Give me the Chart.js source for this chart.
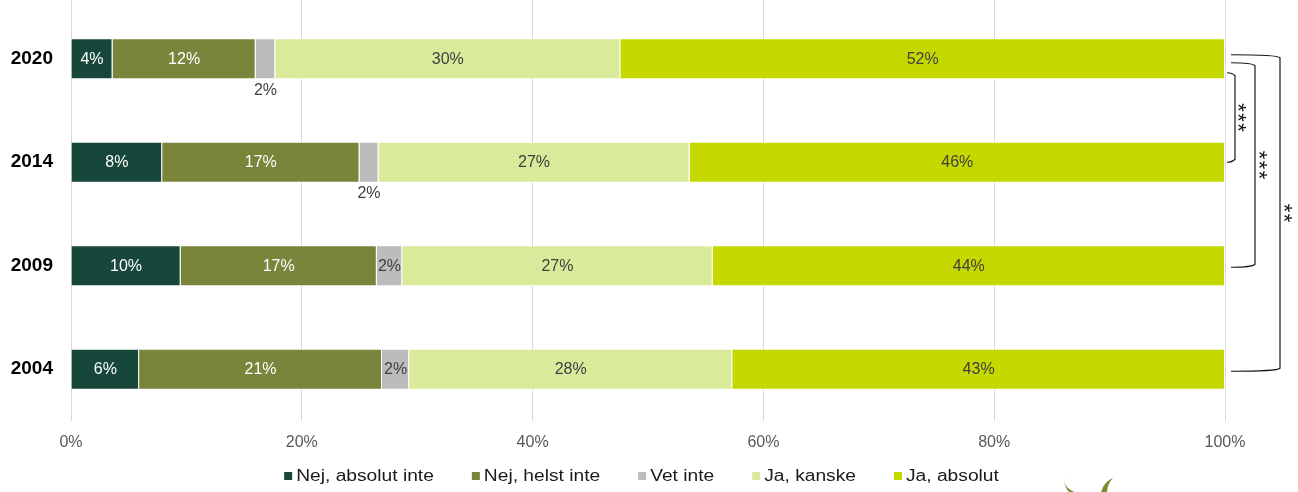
<!DOCTYPE html>
<html>
<head>
<meta charset="utf-8">
<script src="https://cdn.jsdelivr.net/npm/chart.js@4/dist/chart.umd.min.js"></script>
<style>
  html, body { margin: 0; padding: 0; background: #ffffff; }
  #wrap { width: 1298px; height: 492px; position: relative; }
</style>
</head>
<body>
<div id="wrap"><canvas id="c"></canvas></div>
<script>
// ---- Data (percent shares) ----
const categories   = ['2020', '2014', '2009', '2004'];
const seriesNames  = ['Nej, absolut inte', 'Nej, helst inte', 'Vet inte', 'Ja, kanske', 'Ja, absolut'];
const nejAbsolut   = [3.6, 7.9, 9.5, 5.9];
const nejHelst     = [12.4, 17.1, 17.0, 21.05];
const vetInte      = [1.7, 1.65, 2.2, 2.35];
const jaKanske     = [29.9, 26.95, 26.9, 28.0];
const jaAbsolut    = [52.4, 46.4, 44.4, 42.7];
const xTicks       = [0, 20, 40, 60, 80, 100];
// significance brackets: [fromCategoryIndex, toCategoryIndex, label]
const sigFrom      = [0, 0, 0];
const sigTo        = [1, 2, 3];
const sigLabels    = ['***', '***', '**'];

const colors = ['#17473a', '#7a843b', '#bcbcbc', '#d9eb9a', '#c5d800'];
const labelColors = ['#ffffff', '#ffffff', '#404040', '#404040', '#404040'];
const allSeries = [nejAbsolut, nejHelst, vetInte, jaKanske, jaAbsolut];

const FONT = '"Liberation Sans", Arial, sans-serif';

const gridTopPlugin = {
  id: 'gridTop',
  beforeDatasetsDraw(chart) {
    const ctx = chart.ctx, xs = chart.scales.x;
    ctx.save();
    ctx.strokeStyle = '#d9d9d9';
    ctx.lineWidth = 1;
    xs.ticks.forEach(t => {
      const x = Math.round(xs.getPixelForValue(t.value) - 0.5) + 0.5;
      ctx.beginPath();
      ctx.moveTo(x, 0);
      ctx.lineTo(x, chart.chartArea.top);
      ctx.stroke();
    });
    ctx.restore();
  }
};

const labelPlugin = {
  id: 'segLabels',
  afterDatasetsDraw(chart) {
    const ctx = chart.ctx;
    ctx.save();
    ctx.font = '16px ' + FONT;
    ctx.textAlign = 'center';
    ctx.textBaseline = 'middle';
    chart.data.datasets.forEach((ds, di) => {
      const meta = chart.getDatasetMeta(di);
      meta.data.forEach((bar, i) => {
        const v = ds.data[i];
        const txt = Math.round(v) + '%';
        const w = Math.abs(bar.x - bar.base);
        const cx = (bar.x + bar.base) / 2;
        if (w < 25) {
          ctx.fillStyle = '#404040';
          ctx.fillText(txt, cx, bar.y + bar.height / 2 + 11);
        } else {
          ctx.fillStyle = labelColors[di];
          ctx.fillText(txt, cx, bar.y + 0.5);
        }
      });
    });
    ctx.restore();
  }
};

const legendPlugin = {
  id: 'customLegend',
  afterDraw(chart) {
    const ctx = chart.ctx;
    const sx = 1.2, box = 8, gap = 4, itemGap = 38, cy = 476;
    ctx.save();
    ctx.font = '16px ' + FONT;
    const widths = chart.data.datasets.map(d => ctx.measureText(d.label).width * sx);
    const total = widths.reduce((a, w) => a + box + gap + w, 0) + itemGap * (widths.length - 1);
    let x = 641.5 - total / 2;
    chart.data.datasets.forEach((d, i) => {
      ctx.fillStyle = d.backgroundColor;
      ctx.fillRect(x, cy - box / 2, box, box);
      ctx.save();
      ctx.translate(x + box + gap, cy);
      ctx.scale(sx, 1);
      ctx.fillStyle = '#1a1a1a';
      ctx.textBaseline = 'middle';
      ctx.textAlign = 'left';
      ctx.fillText(d.label, 0, 1);
      ctx.restore();
      x += box + gap + widths[i] + itemGap;
    });
    ctx.restore();
  }
};

const bracketPlugin = {
  id: 'brackets',
  afterDraw(chart) {
    const ctx = chart.ctx;
    const xs = chart.scales.x, ys = chart.scales.y;
    const r = xs.right;
    const geo = [
      { x0: r + 2, xv: r + 10, dy1: 14, dy2: 0,   tx: r + 17 },
      { x0: r + 6, xv: r + 30, dy1: 4,  dy2: 1.5, tx: r + 38 },
      { x0: r + 6, xv: r + 55, dy1: -4, dy2: 2,   tx: r + 63 }
    ];
    ctx.save();
    ctx.strokeStyle = '#1a1a1a';
    ctx.lineWidth = 1.2;
    sigLabels.forEach((lab, k) => {
      const g = geo[k];
      const y1 = ys.getPixelForValue(sigFrom[k]) + g.dy1;
      const y2 = ys.getPixelForValue(sigTo[k]) + g.dy2;
      ctx.beginPath();
      ctx.moveTo(g.x0, y1);
      ctx.quadraticCurveTo(g.xv - 3, y1, g.xv, y1 + 3);
      ctx.lineTo(g.xv, y2 - 3);
      ctx.quadraticCurveTo(g.xv - 3, y2, g.x0, y2);
      ctx.stroke();
      // stars, stacked vertically
      ctx.save();
      ctx.fillStyle = '#1a1a1a';
      ctx.font = '22px ' + FONT;
      ctx.textAlign = 'center';
      ctx.textBaseline = 'alphabetic';
      const m = ctx.measureText('*');
      const off = (m.actualBoundingBoxAscent - m.actualBoundingBoxDescent) / 2;
      const n = lab.length, cyc = (y1 + y2) / 2;
      for (let j = 0; j < n; j++) {
        const yy = cyc + (j - (n - 1) / 2) * 10;
        ctx.save();
        ctx.translate(g.tx, yy);
        ctx.rotate(Math.PI / 2);
        ctx.fillText('*', 0, off);
        ctx.restore();
      }
      ctx.restore();
    });
    ctx.restore();

    // partial logo leaves at the bottom edge
    ctx.save();
    ctx.fillStyle = '#7b8c2c';
    ctx.beginPath();
    ctx.moveTo(1065, 477);
    ctx.quadraticCurveTo(1062, 488, 1077, 493);
    ctx.lineTo(1070, 493);
    ctx.quadraticCurveTo(1063, 486, 1065, 477);
    ctx.fill();
    ctx.beginPath();
    ctx.moveTo(1113, 478);
    ctx.quadraticCurveTo(1103, 482, 1101, 493);
    ctx.lineTo(1107, 493);
    ctx.quadraticCurveTo(1107, 484, 1113, 478);
    ctx.fill();
    ctx.restore();
  }
};

new Chart(document.getElementById('c'), {
  type: 'bar',
  data: {
    labels: categories,
    datasets: allSeries.map((d, i) => ({
      label: seriesNames[i],
      data: d,
      backgroundColor: colors[i],
      borderColor: '#ffffff',
      borderWidth: 1,
      categoryPercentage: 1.0,
      barPercentage: 0.396
    }))
  },
  options: {
    indexAxis: 'y',
    responsive: true,
    maintainAspectRatio: false,
    animation: false,
    layout: { padding: { left: 0, right: 73, top: 7, bottom: 40 } },
    scales: {
      x: {
        stacked: true,
        min: 0, max: 100,
        afterBuildTicks: (s) => { s.ticks = xTicks.map(v => ({ value: v })); },
        ticks: {
          callback: (v) => v + '%',
          color: '#595959',
          font: { family: FONT, size: 16 },
          padding: 12
        },
        grid: { color: '#d9d9d9', drawTicks: false, lineWidth: 1 },
        border: { display: false },
        afterFit: (s) => { s.height = 31; s.paddingLeft = 0; s.paddingRight = 0; }
      },
      y: {
        stacked: true,
        ticks: {
          color: '#000000',
          font: { family: FONT, size: 19, weight: 'bold' },
          padding: 18
        },
        grid: { display: false, drawTicks: false },
        border: { display: false },
        afterFit: (s) => { s.width = 71; s.paddingTop = 0; s.paddingBottom = 0; }
      }
    },
    plugins: {
      legend: { display: false },
      tooltip: { enabled: false }
    }
  },
  plugins: [gridTopPlugin, labelPlugin, legendPlugin, bracketPlugin]
});
</script>
</body>
</html>
